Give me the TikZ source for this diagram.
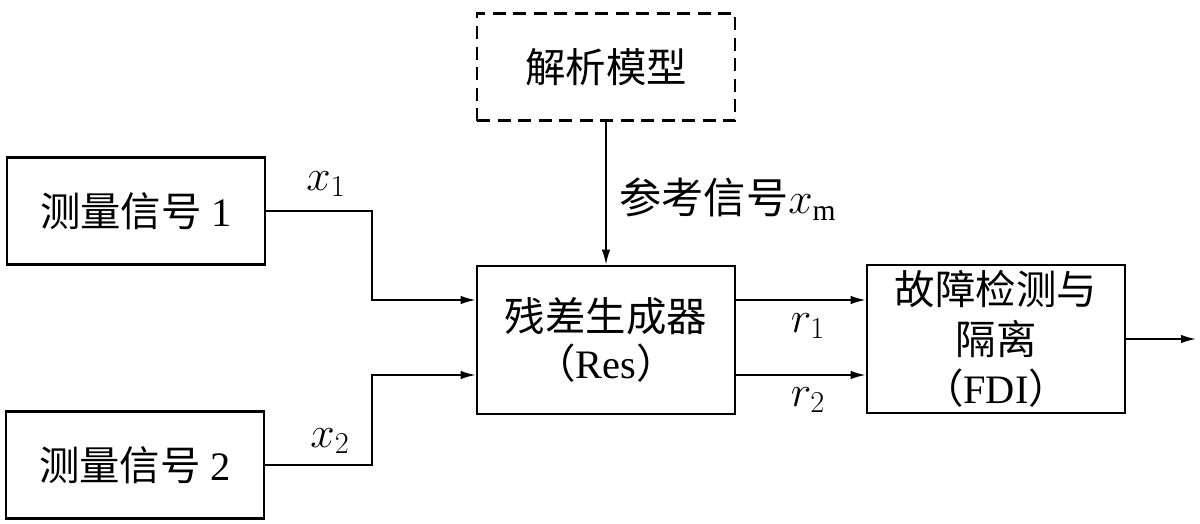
\documentclass[tikz,border=0pt]{standalone}
\usepackage{fontspec}
\setmainfont{Liberation Serif}
\newfontfamily\cjk{Noto Sans CJK SC}
\usetikzlibrary{arrows.meta}

\begin{document}
\begin{tikzpicture}[x=0.2mm, y=-0.2mm,
    bloque/.style={draw, line width=1.5pt, inner sep=0pt, align=center,
      minimum width=51.6mm, minimum height=21.4mm,
      font=\fontsize{23}{28}\selectfont},
    senal/.style={line width=1pt, -{Latex[length=3mm,width=1.7mm]}},
    etiqueta/.style={font=\fontsize{24}{28}\selectfont}]
    \useasboundingbox (0,0) rectangle (1200,523);

    % Bloques
    \node[bloque] (med1) at (136,211) {{\cjk 测量信号} 1};
    \node[bloque] (med2) at (135,465) {{\cjk 测量信号} 2};
    \node[bloque, dash pattern=on 2.6mm off 1.5mm] (modelo) at (606,67) {\cjk 解析模型};
    \node[bloque, minimum height=29.6mm] (res) at (606,340)
      {{\cjk 残差生成器}\\[-1pt]{\cjk （}Res{\cjk ）}};
    \node[bloque, minimum height=29.6mm] (fdi) at (996,339)
      {{\cjk 故障检测与}\\{\cjk 隔离}\\{\cjk （}FDI{\cjk ）}};

    % Puntos de entrada y salida
    \coordinate (ent1) at (res.west |- 0,300);
    \coordinate (ent2) at (res.west |- 0,375);
    \coordinate (sal1) at (res.east |- 0,300);
    \coordinate (sal2) at (res.east |- 0,375);
    \coordinate (fin) at (fdi.east -| 1196,0);

    % Conexiones
    \draw[senal] (med1.east) -- (med1.east -| 372,0) |- (ent1);
    \draw[senal] (med2.east) -- (med2.east -| 372,0) |- (ent2);
    \draw[senal] (modelo.south) -- (res.north);
    \draw[senal] (sal1) -- (fdi.west |- sal1);
    \draw[senal] (sal2) -- (fdi.west |- sal2);
    \draw[senal] (fdi.east) -- (fin);

    % Etiquetas
    \node[etiqueta] (lx1) at (326,184) {$x_1$};
    \node[etiqueta] (lx2) at (330,441) {$x_2$};
    \node[etiqueta] (lxm) at (728,199) {{\cjk 参考信号}$x_\mathrm{m}$};
    \node[etiqueta] (lr1) at (808,326) {$r_1$};
    \node[etiqueta] (lr2) at (808,400) {$r_2$};
\end{tikzpicture}
\end{document}
